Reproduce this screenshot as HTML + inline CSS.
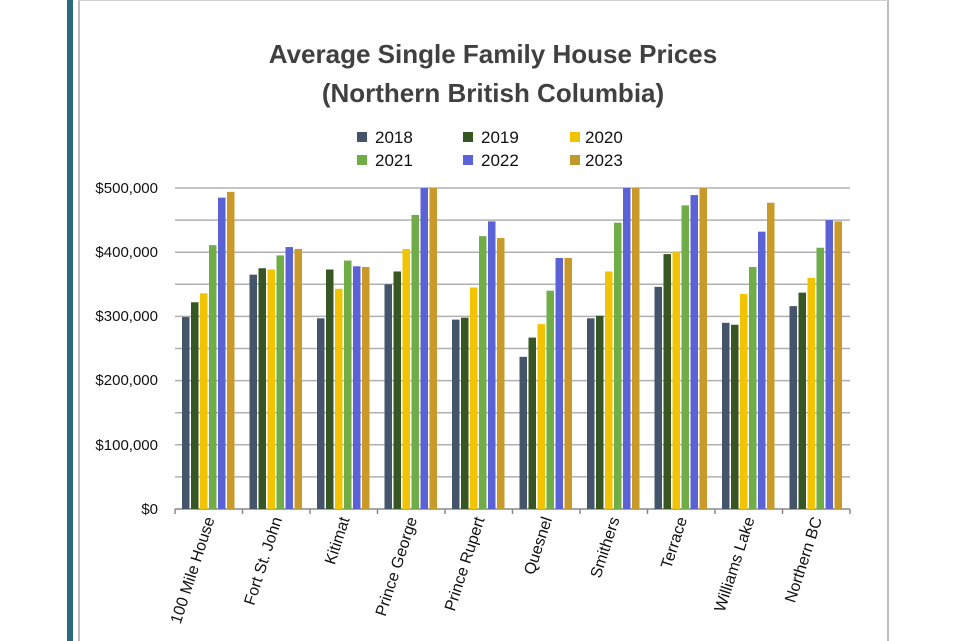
<!DOCTYPE html>
<html><head><meta charset="utf-8"><style>
html,body{margin:0;padding:0;background:#fff;}
svg{display:block;font-family:"Liberation Sans",Calibri,sans-serif;}
</style></head><body>
<svg width="960" height="641" viewBox="0 0 960 641">
<rect x="0" y="0" width="960" height="641" fill="#fff"/>
<rect x="67" y="0" width="6" height="641" fill="#2a6a80"/>
<line x1="79" y1="0" x2="79" y2="641" stroke="#bdbdbd" stroke-width="2"/>
<line x1="888" y1="0" x2="888" y2="641" stroke="#bdbdbd" stroke-width="2"/>
<line x1="79" y1="0.5" x2="888" y2="0.5" stroke="#d0d0d0" stroke-width="1"/>
<g font-weight="bold" fill="#404040" font-size="26" text-anchor="middle">
<text x="493" y="63">Average Single Family House Prices</text>
<text x="493" y="102">(Northern British Columbia)</text>
</g>
<g font-size="17" fill="#111">
<rect x="357" y="132" width="10" height="10" fill="#44546a"/><text x="375" y="143">2018</text>
<rect x="463" y="132" width="10" height="10" fill="#375623"/><text x="481" y="143">2019</text>
<rect x="570" y="132" width="10" height="10" fill="#f2c400"/><text x="585" y="143">2020</text>
<rect x="357" y="155" width="10" height="10" fill="#70ad47"/><text x="375" y="166">2021</text>
<rect x="463" y="155" width="10" height="10" fill="#5b62d6"/><text x="481" y="166">2022</text>
<rect x="570" y="155" width="10" height="10" fill="#bf9a2a"/><text x="585" y="166">2023</text>
</g>
<g id="grid" stroke="#b0b0b0" stroke-width="1.5"></g>
<g id="bars"></g>
<g id="lab" font-size="16" fill="#111" text-anchor="end"></g>
<g font-size="15" fill="#111" text-anchor="end">
<text x="158" y="193">$500,000</text>
<text x="158" y="257">$400,000</text>
<text x="158" y="321">$300,000</text>
<text x="158" y="385">$200,000</text>
<text x="158" y="450">$100,000</text>
<text x="158" y="514">$0</text>
</g>
<script>
var ns="http://www.w3.org/2000/svg";
function el(t,a,p){var e=document.createElementNS(ns,t);for(var k in a)e.setAttribute(k,a[k]);document.getElementById(p).appendChild(e);return e;}
var y0=509;
for(var i=1;i<=10;i++){var y=y0-i*32.1;el("line",{x1:175,x2:850,y1:y,y2:y},"grid");}
el("line",{x1:175,x2:850,y1:y0,y2:y0,stroke:"#888"},"grid");
var cols=["#44546a","#375623","#f2c400","#70ad47","#5b62d6","#c99a2a"];
var names=["100 Mile House","Fort St. John","Kitimat","Prince George","Prince Rupert","Quesnel","Smithers","Terrace","Williams Lake","Northern BC"];
var d=[[299,322,336,411,485,494],[365,375,373,395,408,405],[297,373,343,387,378,377],[350,370,405,458,500,500],[295,298,345,425,448,422],[237,267,288,340,391,391],[297,301,370,446,500,500],[346,397,400,473,489,500],[290,287,335,377,432,477],[316,337,360,407,450,448]];
var gw=67.5;
for(var g=0;g<10;g++){var x0=175+g*gw;
el("line",{x1:x0,x2:x0,y1:y0,y2:y0+5,stroke:"#888"},"grid");
for(var s=0;s<6;s++){var y=y0-d[g][s]*0.642;
el("rect",{x:x0+7+s*9,y:y,width:7.5,height:y0-y,fill:cols[s]},"bars");}
var t=el("text",{transform:"translate("+(x0+gw/2+6)+",519) rotate(-72)"},"lab");t.textContent=names[g];}
el("line",{x1:850,x2:850,y1:y0,y2:y0+5,stroke:"#888"},"grid");
</script>
</svg>
</body></html>
